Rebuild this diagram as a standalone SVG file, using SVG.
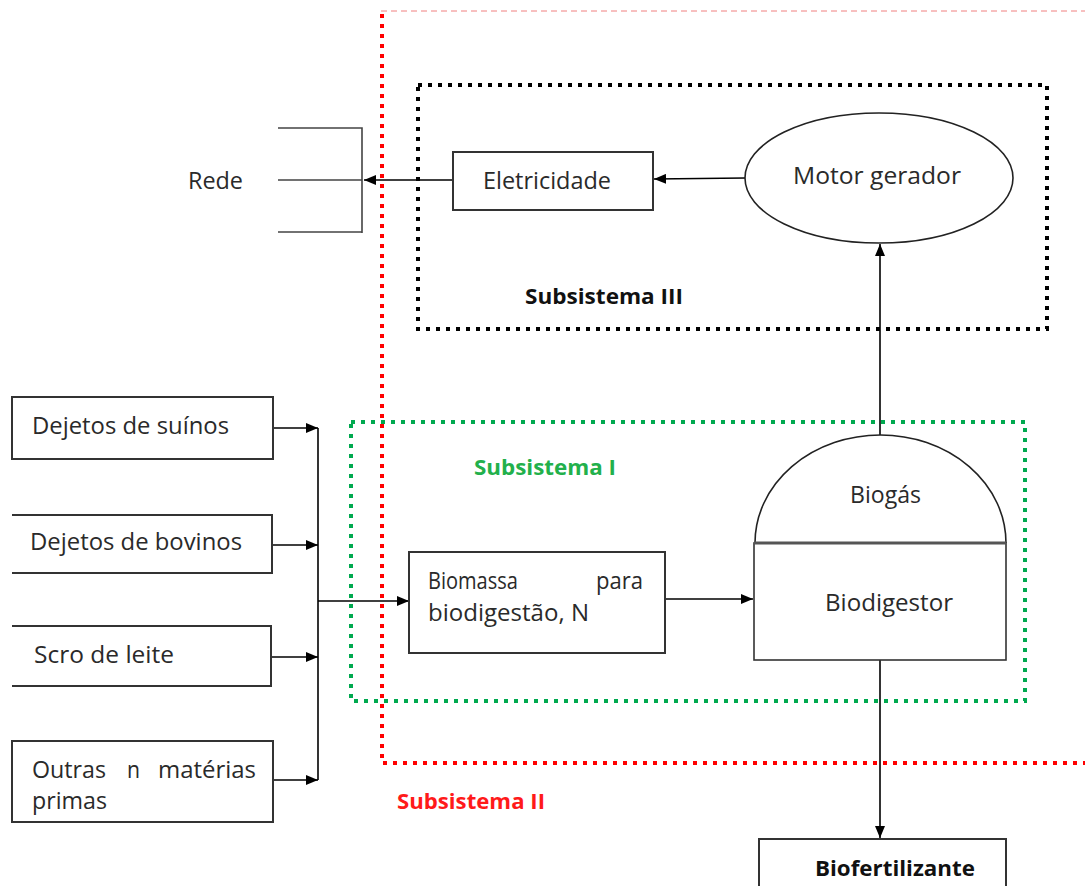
<svg xmlns="http://www.w3.org/2000/svg" width="1085" height="886" viewBox="0 0 1085 886">
<defs>
<marker id="arr" viewBox="0 0 12 10" refX="12" refY="5" markerWidth="12" markerHeight="10" markerUnits="userSpaceOnUse" orient="auto">
<path d="M0,0 L12,5 L0,10 Z" fill="#000"/>
</marker>
<style>
.t{font-family:"Open Sans","Liberation Sans",sans-serif;font-size:24px;fill:#2a2a2a}
.b{font-family:"Open Sans","Liberation Sans",sans-serif;font-size:22px;font-weight:bold}
.box{fill:#fff;stroke:#333;stroke-width:2}
.c{stroke:#000;stroke-width:1.6;fill:none}
.dot{fill:none;stroke-width:4;stroke-dasharray:4 6}
</style>
</defs>
<rect width="1085" height="886" fill="#fff"/>

<g id="subsystems">
<line x1="381" y1="11" x2="1085" y2="11" stroke="#f08080" stroke-width="1" stroke-dasharray="6 4"/>
<path class="dot" stroke="#ff0000" d="M382,14 V763 H1085"/>
<rect class="dot" stroke="#000" x="418" y="85" width="629" height="244"/>
<rect class="dot" stroke="#00a94f" x="351" y="422" width="674" height="279"/>
<text class="b" x="525" y="304" fill="#111" textLength="158" lengthAdjust="spacingAndGlyphs">Subsistema III</text>
<text class="b" x="474" y="475" fill="#22b04b" textLength="142" lengthAdjust="spacingAndGlyphs">Subsistema I</text>
<text class="b" x="397" y="809" fill="#ff1a1a" textLength="148" lengthAdjust="spacingAndGlyphs">Subsistema II</text>
</g>

<g id="connectors">
<line class="c" x1="453" y1="180" x2="364" y2="180" marker-end="url(#arr)"/>
<line class="c" x1="745" y1="178" x2="654" y2="179" marker-end="url(#arr)"/>
<line class="c" x1="880" y1="435" x2="880" y2="244" marker-end="url(#arr)"/>
<line class="c" x1="880" y1="660" x2="880" y2="838" marker-end="url(#arr)"/>
<line class="c" x1="664" y1="599" x2="753" y2="599" marker-end="url(#arr)"/>
<line class="c" x1="273" y1="428" x2="318" y2="428" marker-end="url(#arr)"/>
<line class="c" x1="272" y1="545" x2="318" y2="545" marker-end="url(#arr)"/>
<line class="c" x1="272" y1="657" x2="318" y2="657" marker-end="url(#arr)"/>
<line class="c" x1="273" y1="780" x2="318" y2="780" marker-end="url(#arr)"/>
<line class="c" x1="318" y1="428" x2="318" y2="780"/>
<line class="c" x1="318" y1="601" x2="409" y2="601" marker-end="url(#arr)"/>
</g>

<g id="rede">
<path d="M278,128 H362 V233 M278,180 H362 M278,232 H362" fill="none" stroke="#444" stroke-width="1.6"/>
<text class="t" x="188" y="189" textLength="55" lengthAdjust="spacingAndGlyphs">Rede</text>
</g>

<g id="eletricidade">
<rect class="box" x="453" y="152" width="200" height="58"/>
<text class="t" x="483" y="189" textLength="128" lengthAdjust="spacingAndGlyphs">Eletricidade</text>
</g>

<g id="motor">
<ellipse cx="879" cy="178" rx="134" ry="65" fill="#fff" stroke="#222" stroke-width="1.6"/>
<text class="t" x="793" y="184" textLength="168" lengthAdjust="spacingAndGlyphs">Motor gerador</text>
</g>

<g id="biodigestor">
<path d="M755,543 A125.5,108 0 0 1 1006,543" fill="#fff" stroke="#222" stroke-width="1.6"/>
<rect x="754" y="543" width="252" height="117" fill="#fff" stroke="#333" stroke-width="1.6"/>
<line x1="754" y1="543" x2="1006" y2="543" stroke="#555" stroke-width="3"/>
<text class="t" x="850" y="503" textLength="71" lengthAdjust="spacingAndGlyphs">Biogás</text>
<text class="t" x="825" y="611" textLength="128" lengthAdjust="spacingAndGlyphs">Biodigestor</text>
</g>

<g id="biomassa">
<rect class="box" x="409" y="552" width="256" height="101"/>
<text class="t" x="428" y="589" textLength="90" lengthAdjust="spacingAndGlyphs">Biomassa</text>
<text class="t" x="596" y="589" textLength="47" lengthAdjust="spacingAndGlyphs">para</text>
<text class="t" x="428" y="621" textLength="161" lengthAdjust="spacingAndGlyphs">biodigestão, N</text>
</g>

<g id="suinos">
<rect class="box" x="12" y="397" width="261" height="62"/>
<text class="t" x="32" y="434" textLength="197" lengthAdjust="spacingAndGlyphs">Dejetos de suínos</text>
</g>

<g id="bovinos">
<path class="box" d="M12,515 H272 V573 H12"/>
<text class="t" x="30" y="550" textLength="212" lengthAdjust="spacingAndGlyphs">Dejetos de bovinos</text>
</g>

<g id="soro">
<path class="box" d="M12,626 H271 V686 H12"/>
<text class="t" x="34" y="663" textLength="140" lengthAdjust="spacingAndGlyphs">Scro de leite</text>
</g>

<g id="outras">
<rect class="box" x="12" y="741" width="261" height="81"/>
<text class="t" x="32" y="778" textLength="74" lengthAdjust="spacingAndGlyphs">Outras</text>
<text class="t" x="127" y="778" textLength="13" lengthAdjust="spacingAndGlyphs">n</text>
<text class="t" x="158" y="778" textLength="98" lengthAdjust="spacingAndGlyphs">matérias</text>
<text class="t" x="32" y="809" textLength="75" lengthAdjust="spacingAndGlyphs">primas</text>
</g>

<g id="biofertilizante">
<path class="box" d="M759,890 V839 H1006 V890"/>
<text class="b" x="815" y="876" fill="#111" textLength="160" lengthAdjust="spacingAndGlyphs">Biofertilizante</text>
</g>
</svg>
